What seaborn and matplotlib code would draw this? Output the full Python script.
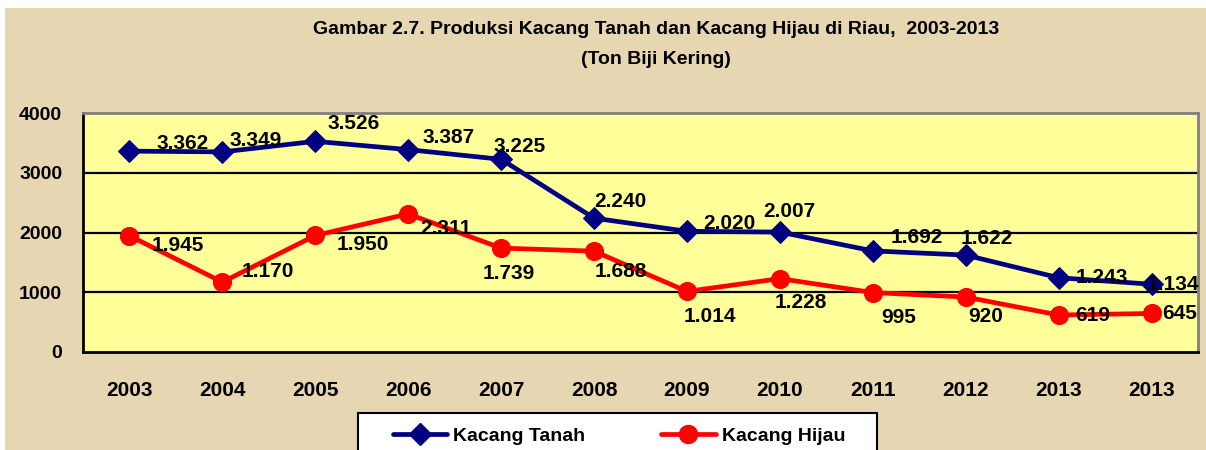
import matplotlib
matplotlib.use("Agg")
import matplotlib.pyplot as plt
import seaborn as sns
import pandas as pd
from matplotlib.patches import Rectangle
from matplotlib.lines import Line2D

# data
years = ["2003", "2004", "2005", "2006", "2007", "2008", "2009", "2010", "2011", "2012", "2013", "2013"]
kacang_tanah = [3362, 3349, 3526, 3387, 3225, 2240, 2020, 2007, 1692, 1622, 1243, 1134]
kacang_hijau = [1945, 1170, 1950, 2311, 1739, 1688, 1014, 1228, 995, 920, 619, 645]
tanah_labels = ["3.362", "3.349", "3.526", "3.387", "3.225", "2.240", "2.020", "2.007", "1.692", "1.622", "1.243", "1.134"]
hijau_labels = ["1.945", "1.170", "1.950", "2.311", "1.739", "1.688", "1.014", "1.228", "995", "920", "619", "645"]

# label offsets (pixels) as placed in the original
tanah_off = [(53, 8), (33, 11), (38, 18), (40, 12), (19, 13), (26, 17),
             (42, 8), (9, 21), (44, 13), (21, 17), (43, 0), (21, 0)]
hijau_off = [(48, -10), (45, 11), (48, -9), (38, -15), (8, -25), (27, -20),
             (23, -25), (21, -24), (26, -25), (20, -19), (34, 0), (28, 0)]

NAVY = "#000080"
RED = "#FF0000"
TAN = "#E7D6B2"
YELLOW = "#FFFF99"

sns.set_style("white")
plt.rcParams["font.family"] = ["Liberation Sans", "DejaVu Sans"]
plt.rcParams["text.color"] = "black"
plt.rcParams["xtick.color"] = "black"
plt.rcParams["ytick.color"] = "black"

W, H = 1206, 450
fig = plt.figure(figsize=(W / 100, H / 100), dpi=100, facecolor="white")
fig.patches.append(Rectangle((5 / W, 0), 1, 1 - 8 / H, transform=fig.transFigure,
                             facecolor=TAN, edgecolor="none", zorder=-10))

ax = fig.add_axes([83 / W, (H - 352) / H, (1198 - 83) / W, (352 - 113) / H])
ax.set_facecolor(YELLOW)

idx = list(range(len(years)))
df = pd.DataFrame({"idx": idx, "tanah": kacang_tanah, "hijau": kacang_hijau})

for v in [1000, 2000, 3000]:
    ax.axhline(v, color="black", lw=1.6, zorder=1)

sns.lineplot(data=df, x="idx", y="tanah", ax=ax, color=NAVY, lw=3.4, marker="D",
             markersize=11, markeredgecolor=NAVY, zorder=3)
sns.lineplot(data=df, x="idx", y="hijau", ax=ax, color=RED, lw=3.4, marker="o",
             markersize=13, markeredgecolor=RED, zorder=3)

for i in idx:
    ax.annotate(tanah_labels[i], (i, kacang_tanah[i]), xytext=tanah_off[i],
                textcoords="offset pixels", ha="center", va="center",
                fontsize=15, fontweight="bold", color="black", zorder=5)
    ax.annotate(hijau_labels[i], (i, kacang_hijau[i]), xytext=hijau_off[i],
                textcoords="offset pixels", ha="center", va="center",
                fontsize=15, fontweight="bold", color="black", zorder=5)

ax.set_xlim(-0.5, len(years) - 0.5)
ax.set_ylim(0, 4000)
ax.set_yticks([0, 1000, 2000, 3000, 4000])
ax.set_xticks(idx)
ax.set_xticklabels(years)
ax.set_xticks([i - 0.5 for i in range(len(years) + 1)], minor=True)
ax.tick_params(axis="x", which="major", length=0, pad=21, labelsize=15)
ax.tick_params(axis="x", which="minor", length=5, width=1.6, color="black", direction="out")
ax.tick_params(axis="y", length=5, width=1.6, color="black", direction="out", pad=10, labelsize=14)
for lab in ax.get_xticklabels() + ax.get_yticklabels():
    lab.set_fontweight("bold")
ax.set_xlabel("")
ax.set_ylabel("")

for side in ["left", "bottom"]:
    ax.spines[side].set_color("black")
    ax.spines[side].set_linewidth(2)
for side in ["top", "right"]:
    ax.spines[side].set_visible(True)
    ax.spines[side].set_color("#808080")
    ax.spines[side].set_linewidth(2)

fig.text(656 / W, 1 - 30 / H, "Gambar 2.7. Produksi Kacang Tanah dan Kacang Hijau di Riau,  2003-2013",
         ha="center", va="center", fontsize=14, fontweight="bold")
fig.text(656 / W, 1 - 60 / H, "(Ton Biji Kering)", ha="center", va="center",
         fontsize=14, fontweight="bold")

# legend box, cut off by the bottom edge like the original
fig.patches.append(Rectangle((358 / W, -0.05), (877 - 358) / W, (H - 413) / H + 0.05,
                             transform=fig.transFigure, facecolor="white",
                             edgecolor="black", lw=1.5, zorder=2))
handles = [Line2D([], [], color=NAVY, lw=3.4, marker="D", markersize=11),
           Line2D([], [], color=RED, lw=3.4, marker="o", markersize=13)]
fig.legend(handles, ["Kacang Tanah", "Kacang Hijau"], loc="center left",
           bbox_to_anchor=(393 / W, 1 - 436 / H), ncol=2, frameon=False,
           handlelength=2.8, handletextpad=0.3, columnspacing=3.9, borderaxespad=0,
           borderpad=0, prop={"weight": "bold", "size": 14})

fig.savefig("out.png", dpi=100, facecolor=fig.get_facecolor())
